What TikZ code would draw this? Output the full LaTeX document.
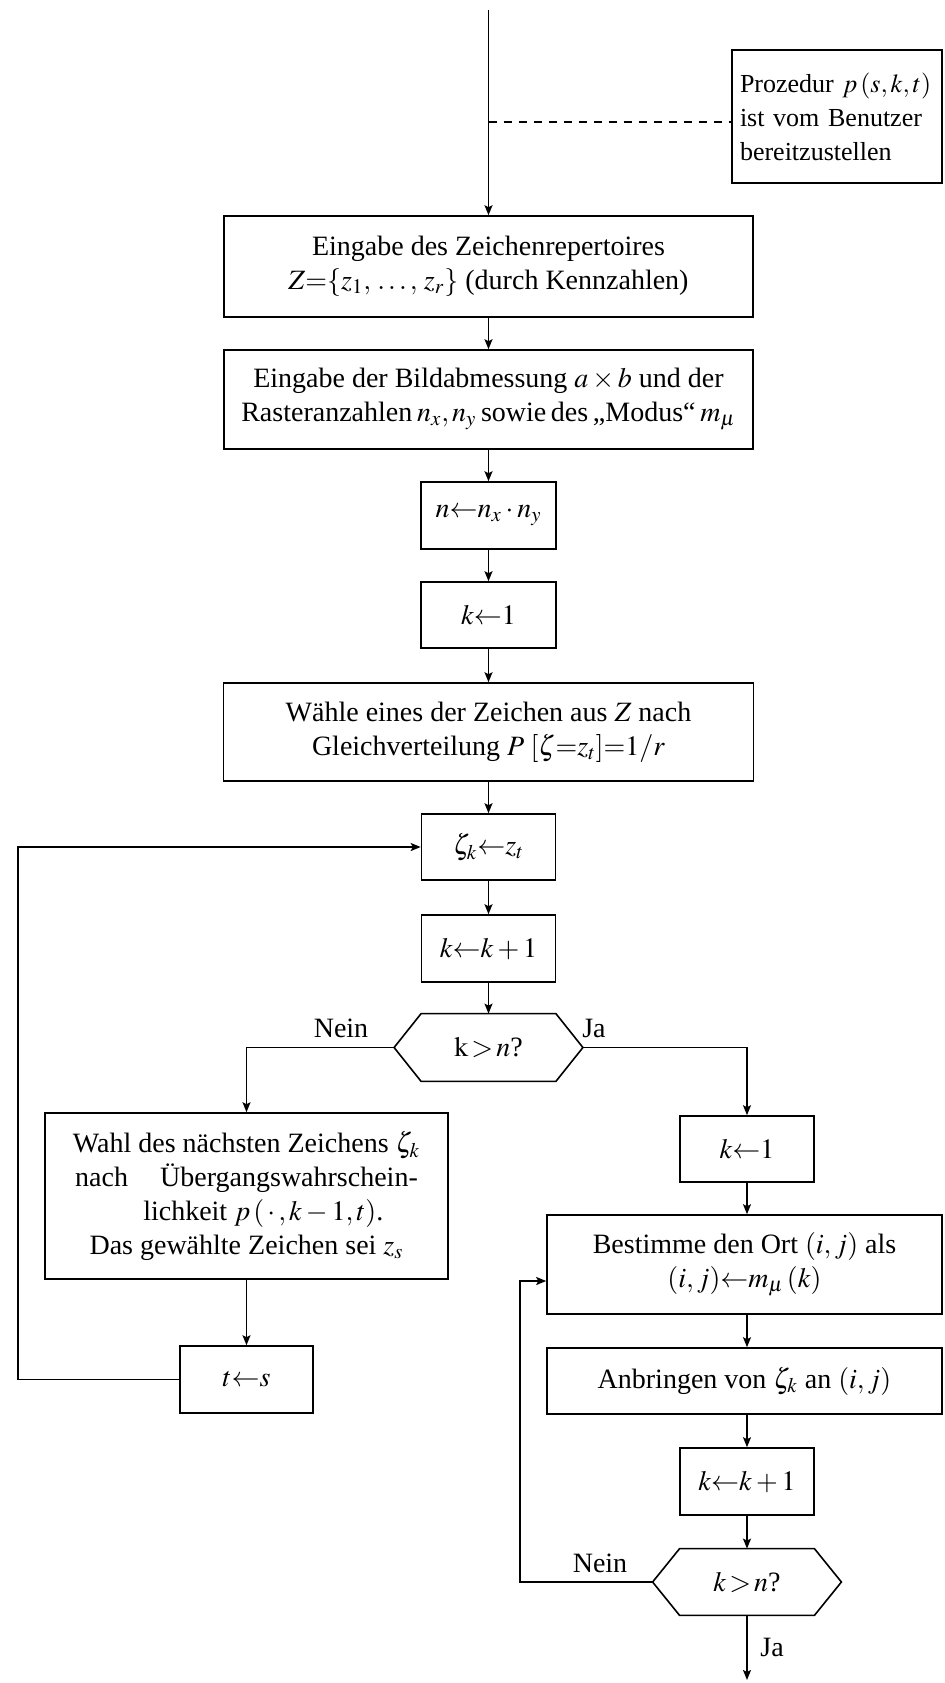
\documentclass[tikz,border=0pt]{standalone}
\usepackage{mathptmx}
\usepackage{fontspec}
\setmainfont{Liberation Serif}
\usetikzlibrary{arrows.meta,calc}
\begin{document}
\begin{tikzpicture}[x=0.5pt,y=-0.5pt,
  every node/.style={font=\fontsize{14pt}{17pt}\selectfont},
  line/.style={line width=0.8pt},
  arr/.style={line width=0.8pt,-{Stealth[length=5pt,width=4pt,inset=1pt]}},
  box/.style={draw,line width=0.8pt,rectangle,inner sep=0pt,align=center},
  hex/.style={inner sep=0pt,align=center,minimum width=67pt,minimum height=33.5pt},
  lbl/.style={inner sep=0pt}]
\useasboundingbox (0,0) rectangle (944,1683);

% note
\node[box,minimum width=105pt,minimum height=66.5pt,align=left,text width=97pt,inner xsep=4pt,
  font=\fontsize{13pt}{17pt}\selectfont] (note) at (837,116.5)
  {\mbox{Prozedur $p\,(s,k,t)$}\\\mbox{ist vom Benutzer}\\\mbox{bereitzustellen}};

% main column
\node[box,minimum width=264.5pt,minimum height=50.5pt] (b1) at (488.5,266.5)
  {Eingabe des Zeichenrepertoires\\$Z{=}\{z_1,\,\ldots,\,z_r\}$ (durch Kennzahlen)};
\node[box,minimum width=264.5pt,minimum height=49.5pt] (b2) at (488.5,399.5)
  {Eingabe der Bildabmessung $a\times b$ und der\\Rasteranzahlen\,$n_x,n_y$\,sowie\,des\,„Modus“\,$m_\mu$};
\node[box,minimum width=67.5pt,minimum height=33.5pt] (b3) at (488.5,515.5) {$n{\leftarrow}n_x\cdot n_y$};
\node[box,minimum width=67.5pt,minimum height=33pt] (b4) at (488.5,615) {$k{\leftarrow}1$};
\node[box,minimum width=265pt,minimum height=49pt] (b5) at (488.5,732)
  {Wähle eines der Zeichen aus $Z$ nach\\Gleichverteilung $P\;[\zeta{=}z_t]{=}1/r$};
\node[box,minimum width=67pt,minimum height=33pt] (b6) at (488.5,847) {$\zeta_k{\leftarrow}z_t$};
\node[box,minimum width=67pt,minimum height=33.5pt] (b7) at (488.5,948.5) {$k{\leftarrow}k+1$};

\node[hex] (h1) at (488.5,1047.5) {$\mathrm{k}\,{>}\,n$?};
\coordinate (h1L) at ($(h1.west)+(-27,0)$);
\coordinate (h1R) at ($(h1.east)+(27,0)$);
\draw[line] (h1.north west) -- (h1.north east) -- (h1R) -- (h1.south east)
  -- (h1.south west) -- (h1L) -- cycle;

% left branch
\node[box,minimum width=201.5pt,minimum height=83pt] (b8) at (246.5,1196)
  {Wahl des nächsten Zeichens $\zeta_k$\\nach\hspace{1.15em}Übergangswahrschein-\\\hspace{1.2em}lichkeit $p\,(\,\cdot\,,k-1,t)$.\\Das gewählte Zeichen sei $z_s$};
\node[box,minimum width=66.5pt,minimum height=33.5pt] (b9) at (246.5,1379.5) {$t{\leftarrow}s$};

% right branch
\node[box,minimum width=67pt,minimum height=33pt] (b10) at (747,1149) {$k{\leftarrow}1$};
\node[box,minimum width=197.5pt,minimum height=49.5pt] (b11) at (744.5,1264.5)
  {Bestimme den Ort $(i,j)$ als\\$(i,j){\leftarrow}m_\mu\,(k)$};
\node[box,minimum width=197.5pt,minimum height=33pt] (b12) at (744.5,1381)
  {Anbringen von $\zeta_k$ an $(i,j)$};
\node[box,minimum width=67pt,minimum height=33.5pt] (b13) at (747,1481.5) {$k{\leftarrow}k+1$};

\node[hex,minimum height=33pt] (h2) at (747,1582) {$k\,{>}\,n$?};
\coordinate (h2L) at ($(h2.west)+(-27,0)$);
\coordinate (h2R) at ($(h2.east)+(27,0)$);
\draw[line] (h2.north west) -- (h2.north east) -- (h2R) -- (h2.south east)
  -- (h2.south west) -- (h2L) -- cycle;

% labels
\node[lbl] (nein1) at (341,1028) {Nein};
\node[lbl] (ja1) at (594,1028) {Ja};
\node[lbl] (nein2) at (600,1563) {Nein};
\node[lbl,anchor=west] (ja2) at (760,1647) {Ja};

% connectors
\coordinate (top) at (488.5,10);
\draw[arr] (top) -- (b1.north);
\coordinate (dj) at (488.5,122);
\draw[line,dash pattern=on 4pt off 3.5pt] (dj) -- (dj -| note.west);
\draw[arr] (b1.south) -- (b2.north);
\draw[arr] (b2.south) -- (b3.north);
\draw[arr] (b3.south) -- (b4.north);
\draw[arr] (b4.south) -- (b5.north);
\draw[arr] (b5.south) -- (b6.north);
\draw[arr] (b6.south) -- (b7.north);
\draw[arr] (b7.south) -- (h1.north);

\draw[arr] (h1L) -| (b8.north);
\draw[arr] (b8.south) -- (b9.north);
\coordinate (lx) at (18,1379.5);
\draw[arr] (b9.west) -- (lx) |- (b6.west);

\draw[arr] (h1R) -| (b10.north);
\draw[arr] (b10.south) -- (b10.south |- b11.north);
\draw[arr] (b10.south |- b11.south) -- (b10.south |- b12.north);
\draw[arr] (b13.north |- b12.south) -- (b13.north);
\draw[arr] (b13.south) -- (h2.north);
\coordinate (n2) at (520,1281);
\draw[arr] (h2L) -| (n2) -- (n2 -| b11.west);
\coordinate (exit) at (747,1680);
\draw[arr] (h2.south) -- (exit);
\end{tikzpicture}
\end{document}
